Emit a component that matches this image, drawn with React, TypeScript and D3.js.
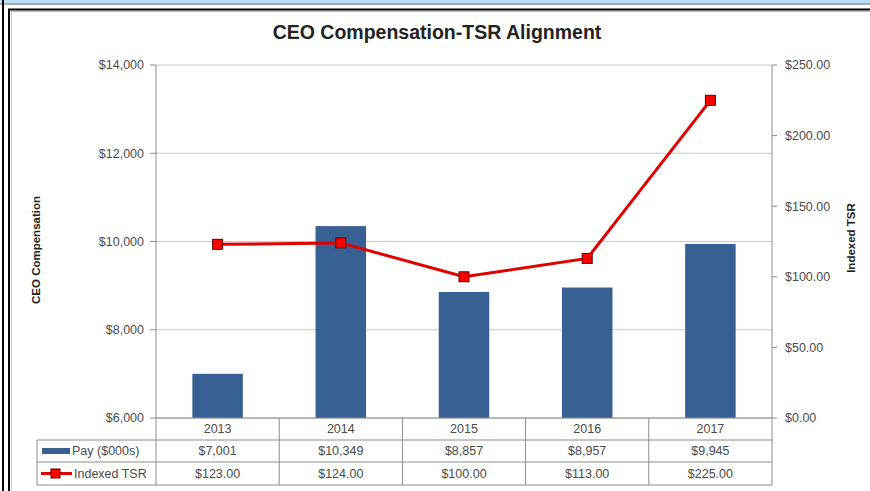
import React from 'react';
import * as d3 from 'd3';

const years = ['2013', '2014', '2015', '2016', '2017'];
const pay = [7001, 10349, 8857, 8957, 9945];
const tsr = [123, 124, 100, 113, 225];
const payTicks = [6000, 8000, 10000, 12000, 14000];
const tsrTicks = [0, 50, 100, 150, 200, 250];

const W = 870;
const H = 491;
const FONT = '"Liberation Sans", Arial, sans-serif';

const App: React.FC = () => {
    const margin = { left: 156, right: 772, top: 65, bottom: 418 };
    const x = d3.scaleBand<string>().domain(years).range([margin.left, margin.right]).paddingInner(0).paddingOuter(0);
    const yPay = d3.scaleLinear().domain([6000, 14000]).range([margin.bottom, margin.top]);
    const yTsr = d3.scaleLinear().domain([0, 250]).range([margin.bottom, margin.top]);
    const barW = x.bandwidth() * 0.41;
    const fmtPay = d3.format('$,.0f');
    const fmtTsr = d3.format('$.2f');

    const line = d3.line<number>()
        .x((_, i) => (x(years[i]) as number) + x.bandwidth() / 2)
        .y(d => yTsr(d));

    // data table rows
    const rowTop = [418, 440, 462];
    const rowBottom = 485;
    const legendLeft = 37;
    const gridColor = '#c8c8c8';
    const axisColor = '#8c8c8c';
    const textColor = '#4a4a4a';

    return (
        <svg width={W} height={H} style={{ position: 'absolute', left: 0, top: 0 }} fontFamily={FONT}>
            <rect width={W} height={H} fill="#fff" />
            {/* outer frame */}
            <rect x={0} y={0} width={W} height={3} fill="#bcdcf5" />
            <rect x={0} y={3} width={W} height={2} fill="#a8a8a8" />
            <line x1={3} x2={3} y1={0} y2={H} stroke="#000" strokeWidth={2} />
            <line x1={9} x2={9} y1={9} y2={H} stroke="#000" strokeWidth={2} />
            <line x1={8} x2={W} y1={9.5} y2={9.5} stroke="#000" strokeWidth={2} />
            <line x1={11} x2={W} y1={11.5} y2={11.5} stroke="#bbb" strokeWidth={1} />
            <line x1={11.5} x2={11.5} y1={11} y2={H} stroke="#ccc" strokeWidth={1} />

            {/* title */}
            <text x={437} y={39} textAnchor="middle" fontSize={19.5} fontWeight="bold" fill="#222">
                CEO Compensation-TSR Alignment
            </text>

            {/* gridlines */}
            {payTicks.map(t => (
                <line key={t} x1={margin.left} x2={margin.right} y1={yPay(t)} y2={yPay(t)} stroke={gridColor} />
            ))}

            {/* bars */}
            {pay.map((v, i) => (
                <rect
                    key={years[i]}
                    x={(x(years[i]) as number) + (x.bandwidth() - barW) / 2}
                    y={yPay(v)}
                    width={barW}
                    height={yPay(6000) - yPay(v)}
                    fill="#386092"
                />
            ))}

            {/* left axis */}
            <line x1={margin.left} x2={margin.left} y1={margin.top} y2={margin.bottom} stroke={axisColor} />
            {payTicks.map(t => (
                <g key={t}>
                    <line x1={margin.left - 6} x2={margin.left} y1={yPay(t)} y2={yPay(t)} stroke={axisColor} />
                    <text x={margin.left - 12} y={yPay(t)} dy="0.35em" textAnchor="end" fontSize={12.5} fill={textColor}>
                        {fmtPay(t)}
                    </text>
                </g>
            ))}
            <text transform={`translate(40,250) rotate(-90)`} textAnchor="middle" fontSize={11.5} fontWeight="bold" fill="#222">
                CEO Compensation
            </text>

            {/* right axis */}
            <line x1={margin.right} x2={margin.right} y1={margin.top} y2={margin.bottom} stroke={axisColor} />
            {tsrTicks.map(t => (
                <g key={t}>
                    <line x1={margin.right} x2={margin.right + 5} y1={yTsr(t)} y2={yTsr(t)} stroke={axisColor} />
                    <text x={margin.right + 13} y={yTsr(t)} dy="0.35em" textAnchor="start" fontSize={12.5} fill={textColor}>
                        {fmtTsr(t)}
                    </text>
                </g>
            ))}
            <text transform={`translate(855,238) rotate(-90)`} textAnchor="middle" fontSize={11.5} fontWeight="bold" fill="#222">
                Indexed TSR
            </text>

            {/* TSR line */}
            <path d={line(tsr) as string} fill="none" stroke="#e00000" strokeWidth={3} />
            {tsr.map((v, i) => (
                <rect
                    key={years[i]}
                    x={(x(years[i]) as number) + x.bandwidth() / 2 - 5}
                    y={yTsr(v) - 5}
                    width={10}
                    height={10}
                    fill="#ff0000"
                    stroke="#5a0000"
                    strokeWidth={1}
                />
            ))}

            {/* data table */}
            <g stroke={axisColor} strokeWidth={1}>
                <line x1={margin.left} x2={margin.right} y1={rowTop[0]} y2={rowTop[0]} />
                <line x1={legendLeft} x2={margin.right} y1={rowTop[1]} y2={rowTop[1]} />
                <line x1={legendLeft} x2={margin.right} y1={rowTop[2]} y2={rowTop[2]} />
                <line x1={legendLeft} x2={margin.right} y1={rowBottom} y2={rowBottom} />
                <line x1={legendLeft} x2={legendLeft} y1={rowTop[1]} y2={rowBottom} />
                {years.map(yr => (
                    <line key={yr} x1={x(yr) as number} x2={x(yr) as number} y1={rowTop[0]} y2={rowBottom} />
                ))}
                <line x1={margin.right} x2={margin.right} y1={rowTop[0]} y2={rowBottom} />
            </g>
            {years.map((yr, i) => {
                const cx = (x(yr) as number) + x.bandwidth() / 2;
                return (
                    <g key={yr} fontSize={12.5} fill={textColor} textAnchor="middle">
                        <text x={cx} y={(rowTop[0] + rowTop[1]) / 2} dy="0.35em">{yr}</text>
                        <text x={cx} y={(rowTop[1] + rowTop[2]) / 2} dy="0.35em">{fmtPay(pay[i])}</text>
                        <text x={cx} y={(rowTop[2] + rowBottom) / 2} dy="0.35em">{fmtTsr(tsr[i])}</text>
                    </g>
                );
            })}
            {/* legend keys */}
            <rect x={42} y={448} width={28} height={6} fill="#386092" />
            <text x={72} y={451} dy="0.35em" fontSize={12.5} fill={textColor}>Pay ($000s)</text>
            <line x1={41} x2={72} y1={473.5} y2={473.5} stroke="#e00000" strokeWidth={3} />
            <rect x={51} y={469} width={9} height={9} fill="#ff0000" stroke="#5a0000" />
            <text x={74} y={473.5} dy="0.35em" fontSize={12.5} fill={textColor}>Indexed TSR</text>
        </svg>
    );
};

export default App;
